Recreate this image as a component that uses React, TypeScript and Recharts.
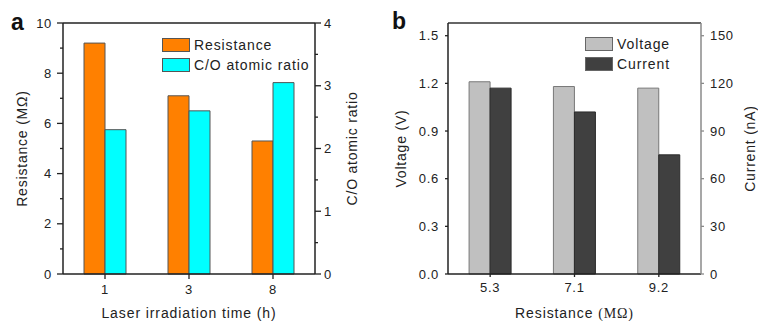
import React from 'react';
import { BarChart, Bar, XAxis, YAxis, Legend, ReferenceLine } from 'recharts';

const FONT = '"Liberation Sans", Arial, Helvetica, sans-serif';
const SERIF = '"Liberation Serif", "Times New Roman", serif';

// ---- Panel a data ----
const timeCategories = ['1', '3', '8'];
const resistanceValues = [9.2, 7.1, 5.3];
const coRatioValues = [2.3, 2.6, 3.05];
const resistanceTicks = [0, 1, 2, 3, 4, 5, 6, 7, 8, 9, 10];
const coRatioTicks = [0, 0.5, 1, 1.5, 2, 2.5, 3, 3.5, 4];
const seriesNamesA = ['Resistance', 'C/O atomic ratio'];

// ---- Panel b data ----
const resistanceCategories = ['5.3', '7.1', '9.2'];
const voltageValues = [1.21, 1.18, 1.17];
const currentValues = [117, 102, 75];
const voltageTicks = [0, 0.3, 0.6, 0.9, 1.2, 1.5];
const voltageTickLabels = ['0.0', '0.3', '0.6', '0.9', '1.2', '1.5'];
const currentTicks = [0, 30, 60, 90, 120, 150];
const seriesNamesB = ['Voltage', 'Current'];

const dataA = timeCategories.map((t, i) => ({
  time: t,
  resistance: resistanceValues[i],
  ratio: coRatioValues[i],
}));

const dataB = resistanceCategories.map((r, i) => ({
  res: r,
  voltage: voltageValues[i],
  current: currentValues[i],
}));

type TickOpts = {
  side: 'left' | 'right' | 'bottom';
  isMajor: (v: any) => boolean;
  len: number;
  minorLen: number;
  gap: number;
  lineColor: string;
  format: (v: any) => string;
  fontSize: number;
};

const makeTick = (o: TickOpts) => (props: any) => {
  const { x, y, payload } = props;
  const v = payload.value;
  const major = o.isMajor(v);
  const L = major ? o.len : o.minorLen;
  const textProps = {
    fontFamily: FONT,
    fontSize: o.fontSize,
    fill: '#222',
    letterSpacing: 0.7,
  };
  if (o.side === 'left') {
    return (
      <g>
        <line x1={x - L} x2={x} y1={y} y2={y} stroke={o.lineColor} strokeWidth={1.3} />
        {major && (
          <text x={x - o.gap} y={y} textAnchor="end" dominantBaseline="central" {...textProps}>
            {o.format(v)}
          </text>
        )}
      </g>
    );
  }
  if (o.side === 'right') {
    return (
      <g>
        <line x1={x} x2={x + L} y1={y} y2={y} stroke={o.lineColor} strokeWidth={1.3} />
        {major && (
          <text x={x + o.gap} y={y} textAnchor="start" dominantBaseline="central" {...textProps}>
            {o.format(v)}
          </text>
        )}
      </g>
    );
  }
  return (
    <g>
      <line x1={x} x2={x} y1={y} y2={y + L} stroke={o.lineColor} strokeWidth={1.3} />
      <text x={x} y={y + o.gap} textAnchor="middle" dominantBaseline="central" {...textProps}>
        {o.format(v)}
      </text>
    </g>
  );
};

const YTitle = (props: any) => {
  const { viewBox, text, offsetX } = props;
  if (!viewBox) return null;
  const cx = viewBox.x + offsetX;
  const cy = viewBox.y + viewBox.height / 2;
  return (
    <text
      x={cx}
      y={cy}
      transform={`rotate(-90 ${cx} ${cy})`}
      textAnchor="middle"
      dominantBaseline="central"
      fontFamily={FONT}
      fontSize={14}
      letterSpacing={0.8}
      fill="#222"
    >
      {text}
    </text>
  );
};

const XTitle = (props: any) => {
  const { viewBox, children, offsetY } = props;
  if (!viewBox) return null;
  const cx = viewBox.x + viewBox.width / 2;
  const cy = viewBox.y + offsetY;
  return (
    <text
      x={cx}
      y={cy}
      textAnchor="middle"
      dominantBaseline="central"
      fontFamily={FONT}
      fontSize={14}
      letterSpacing={0.9}
      fill="#222"
    >
      {children}
    </text>
  );
};

const BoxLegend = (props: any) => {
  const { payload, boxStroke, order } = props;
  if (!payload) return null;
  const items = [...payload].sort(
    (a: any, b: any) => order.indexOf(a.value) - order.indexOf(b.value)
  );
  return (
    <svg width={170} height={40} style={{ display: 'block', overflow: 'visible' }}>
      {items.map((p: any, i: number) => (
        <g key={i}>
          <rect
            x={0.5}
            y={0.5 + i * 20}
            width={27}
            height={13}
            fill={p.color}
            stroke={boxStroke}
            strokeWidth={1}
          />
          <text
            x={32}
            y={7 + i * 20}
            dominantBaseline="central"
            fontFamily={FONT}
            fontSize={14}
            letterSpacing={0.9}
            fill="#222"
          >
            {p.value}
          </text>
        </g>
      ))}
    </svg>
  );
};

const AXIS_DARK = '#222';
const AXIS_GRAY = '#8a8a8a';

const ChartA = () => (
  <BarChart
    width={380}
    height={321}
    data={dataA}
    margin={{ top: 23, right: 0, bottom: 0, left: 0 }}
    barCategoryGap="25%"
    barGap={0}
  >
    <XAxis
      dataKey="time"
      height={47}
      axisLine={{ stroke: AXIS_DARK, strokeWidth: 1.5 }}
      tickLine={false}
      tickSize={0}
      tickMargin={0}
      interval={0}
      tick={makeTick({
        side: 'bottom',
        isMajor: () => true,
        len: 5,
        minorLen: 5,
        gap: 15,
        lineColor: AXIS_DARK,
        format: (v) => String(v),
        fontSize: 13,
      })}
      label={<XTitle offsetY={39}>Laser irradiation time (h)</XTitle>}
    />
    <YAxis
      yAxisId="left"
      orientation="left"
      width={63}
      domain={[0, 10]}
      ticks={resistanceTicks}
      interval={0}
      axisLine={{ stroke: AXIS_DARK, strokeWidth: 1.5 }}
      tickLine={false}
      tickSize={0}
      tickMargin={0}
      tick={makeTick({
        side: 'left',
        isMajor: (v) => v % 2 === 0,
        len: 6,
        minorLen: 3,
        gap: 11,
        lineColor: AXIS_DARK,
        format: (v) => String(v),
        fontSize: 13,
      })}
      label={<YTitle text="Resistance (MΩ)" offsetX={22} />}
    />
    <YAxis
      yAxisId="right"
      orientation="right"
      width={65}
      domain={[0, 4]}
      ticks={coRatioTicks}
      interval={0}
      axisLine={{ stroke: AXIS_DARK, strokeWidth: 1.5 }}
      tickLine={false}
      tickSize={0}
      tickMargin={0}
      tick={makeTick({
        side: 'right',
        isMajor: (v) => Number.isInteger(v),
        len: 6,
        minorLen: 3,
        gap: 9,
        lineColor: AXIS_DARK,
        format: (v) => String(v),
        fontSize: 13,
      })}
      label={<YTitle text="C/O atomic ratio" offsetX={37} />}
    />
    <ReferenceLine yAxisId="left" y={10} stroke={AXIS_DARK} strokeWidth={1.5} />
    <Legend
      layout="vertical"
      align="center"
      verticalAlign="middle"
      wrapperStyle={{ left: 162, top: 38, width: 170, height: 40 }}
      content={<BoxLegend boxStroke="#555" order={seriesNamesA} />}
    />
    <Bar
      yAxisId="left"
      dataKey="resistance"
      name={seriesNamesA[0]}
      fill="#FF8000"
      stroke="#555"
      strokeWidth={1}
      isAnimationActive={false}
    />
    <Bar
      yAxisId="right"
      dataKey="ratio"
      name={seriesNamesA[1]}
      fill="#00FFFF"
      stroke="#555"
      strokeWidth={1}
      isAnimationActive={false}
    />
  </BarChart>
);

const ChartB = () => (
  <BarChart
    width={378}
    height={321}
    data={dataB}
    margin={{ top: 23, right: 0, bottom: 0, left: 0 }}
    barCategoryGap="25%"
    barGap={0}
  >
    <XAxis
      dataKey="res"
      height={47}
      axisLine={{ stroke: AXIS_DARK, strokeWidth: 1.5 }}
      tickLine={false}
      tickSize={0}
      tickMargin={0}
      interval={0}
      tick={makeTick({
        side: 'bottom',
        isMajor: () => true,
        len: 3,
        minorLen: 3,
        gap: 13,
        lineColor: AXIS_DARK,
        format: (v) => String(v),
        fontSize: 13,
      })}
      label={
        <XTitle offsetY={39}>
          Resistance <tspan fontFamily={SERIF}>(MΩ)</tspan>
        </XTitle>
      }
    />
    <YAxis
      yAxisId="left"
      orientation="left"
      width={68}
      domain={[0, 1.58]}
      ticks={voltageTicks}
      interval={0}
      axisLine={{ stroke: AXIS_DARK, strokeWidth: 1.5 }}
      tickLine={false}
      tickSize={0}
      tickMargin={0}
      tick={makeTick({
        side: 'left',
        isMajor: () => true,
        len: 3,
        minorLen: 3,
        gap: 9,
        lineColor: AXIS_DARK,
        format: (v) => voltageTickLabels[voltageTicks.indexOf(v)] ?? String(v),
        fontSize: 13,
      })}
      label={<YTitle text="Voltage (V)" offsetX={21} />}
    />
    <YAxis
      yAxisId="right"
      orientation="right"
      width={57}
      domain={[0, 158]}
      ticks={currentTicks}
      interval={0}
      axisLine={{ stroke: AXIS_GRAY, strokeWidth: 1.5 }}
      tickLine={false}
      tickSize={0}
      tickMargin={0}
      tick={makeTick({
        side: 'right',
        isMajor: () => true,
        len: 3,
        minorLen: 3,
        gap: 9,
        lineColor: AXIS_GRAY,
        format: (v) => String(v),
        fontSize: 13,
      })}
      label={<YTitle text="Current (nA)" offsetX={49} />}
    />
    <ReferenceLine yAxisId="left" y={1.58} stroke="#333" strokeWidth={1.5} />
    <Legend
      layout="vertical"
      align="center"
      verticalAlign="middle"
      wrapperStyle={{ left: 205, top: 37, width: 170, height: 40 }}
      content={<BoxLegend boxStroke="#666" order={seriesNamesB} />}
    />
    <Bar
      yAxisId="left"
      dataKey="voltage"
      name={seriesNamesB[0]}
      fill="#C0C0C0"
      stroke="#777"
      strokeWidth={1}
      isAnimationActive={false}
    />
    <Bar
      yAxisId="right"
      dataKey="current"
      name={seriesNamesB[1]}
      fill="#404040"
      stroke="#2a2a2a"
      strokeWidth={1}
      isAnimationActive={false}
    />
  </BarChart>
);

export default function App() {
  return (
    <div
      style={{
        position: 'absolute',
        left: 0,
        top: 0,
        width: 758,
        height: 321,
        background: '#fff',
        fontFamily: FONT,
      }}
    >
      <div style={{ position: 'absolute', left: 0, top: 0, width: 380, height: 321 }}>
        <ChartA />
      </div>
      <div style={{ position: 'absolute', left: 380, top: 0, width: 378, height: 321 }}>
        <ChartB />
      </div>
      <svg
        width={758}
        height={321}
        style={{ position: 'absolute', left: 0, top: 0, pointerEvents: 'none' }}
      >
        <text x={11} y={30} fontFamily={FONT} fontWeight="bold" fontSize={23} fill="#111">
          a
        </text>
        <text x={392} y={29} fontFamily={FONT} fontWeight="bold" fontSize={23} fill="#111">
          b
        </text>
      </svg>
    </div>
  );
}
